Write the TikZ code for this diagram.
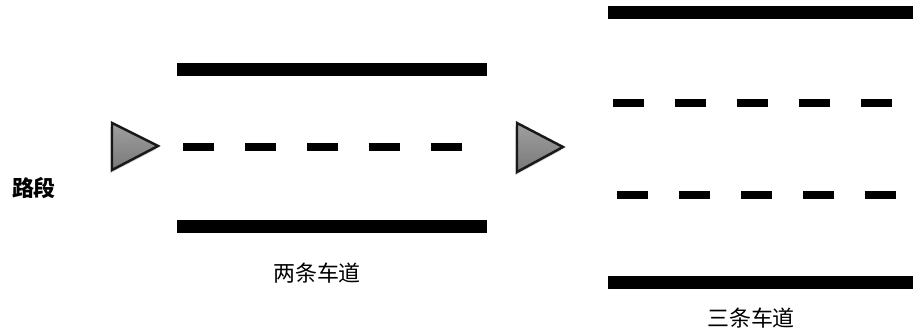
\documentclass[tikz,border=0pt]{standalone}
\usepackage{fontspec}
\usepackage{tikz}
\usetikzlibrary{shadows}
\newfontfamily\cjk{Noto Sans CJK SC}
\tikzset{
  curb/.style={line width=0.26cm},
  lanemark/.style={line width=0.16cm, dash pattern=on 0.62cm off 0.62cm},
  pointer/.style={draw=black!90, line width=1.4pt, line join=miter, top color=gray!75, bottom color=gray!95!black,
    drop shadow={opacity=0.3, shadow xshift=-0.04cm, shadow yshift=-0.07cm}},
  caption/.style={font=\cjk\fontsize{12.5}{14}\selectfont, inner sep=0pt}
}
\begin{document}
\begin{tikzpicture}[x=0.02cm,y=-0.02cm]
\useasboundingbox (0,0) rectangle (913,333);
% segment label
\node[caption, font=\cjk\bfseries\fontsize{12.5}{14}\selectfont] (seg) at (34,188) {路段};
% two lanes
\draw[pointer] (112,123) -- (158,146) -- (112,170) -- cycle;
\draw[curb] (177,69.5) -- (487,69.5);
\draw[lanemark] (183,147.5) -- (463,147.5);
\draw[curb] (177,226.5) -- (487,226.5);
\node[caption] (two) at (317,273) {两条车道};
% three lanes
\draw[pointer] (517,123) -- (563,147) -- (517,172) -- cycle;
\draw[curb] (608,13) -- (913,13);
\draw[lanemark] (613,103.5) -- (893,103.5);
\draw[lanemark] (617,195) -- (898,195);
\draw[curb] (608,282.5) -- (913,282.5);
\node[caption] (three) at (751,318) {三条车道};
\end{tikzpicture}
\end{document}
